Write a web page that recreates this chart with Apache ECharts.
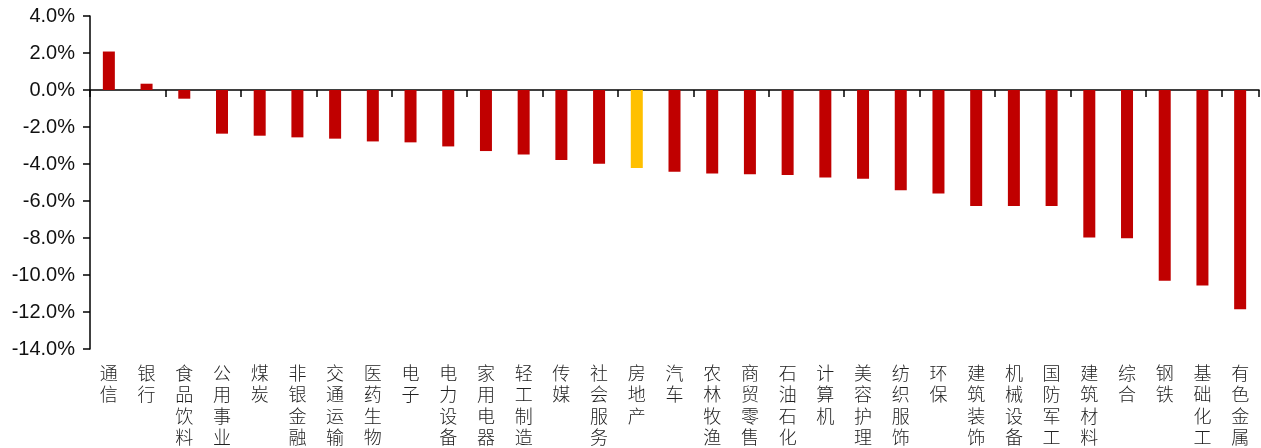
<!DOCTYPE html>
<html><head><meta charset="utf-8">
<script src="https://cdn.jsdelivr.net/npm/echarts@6/dist/echarts.min.js"></script>
<style>html,body{margin:0;padding:0;background:#fff}#c{width:1261px;height:448px}</style>
</head><body><div id="c"></div>
<script>
const categories = ['通信','银行','食品饮料','公用事业','煤炭','非银金融','交通运输','医药生物','电子','电力设备','家用电器','轻工制造','传媒','社会服务','房地产','汽车','农林牧渔','商贸零售','石油石化','计算机','美容护理','纺织服饰','环保','建筑装饰','机械设备','国防军工','建筑材料','综合','钢铁','基础化工','有色金属'];
const values = [2.08, 0.34, -0.47, -2.36, -2.47, -2.56, -2.63, -2.78, -2.83, -3.05, -3.30, -3.48, -3.79, -3.99, -4.21, -4.42, -4.52, -4.55, -4.59, -4.73, -4.80, -5.42, -5.60, -6.27, -6.27, -6.27, -7.97, -8.01, -10.31, -10.57, -11.85];
const highlight = '房地产';
const yMin = -14, yMax = 4, yStep = 2;

const chart = echarts.init(document.getElementById('c'));
chart.setOption({
  animation: false,
  grid: {left: 90, right: 2, top: 16, bottom: 99, containLabel: false},
  xAxis: [{
    type: 'category', data: categories, position: 'bottom',
    axisLine: {show: false, onZero: false}, axisTick: {show: false},
    axisLabel: {
      interval: 0, margin: 13, color: '#222', fontSize: 18, lineHeight: 21.5,
      fontFamily: 'Noto Sans CJK SC', fontWeight: 300, verticalAlign: 'top',
      formatter: v => v.split('').join('\n')
    }
  }, {
    type: 'category', data: categories, position: 'bottom',
    axisLine: {show: true, onZero: true, lineStyle: {color: '#000', width: 1.5}},
    axisTick: {show: true, length: 7, inside: false, lineStyle: {color: '#000', width: 1.5}},
    axisLabel: {show: false}
  }],
  yAxis: {
    type: 'value', min: yMin, max: yMax, interval: yStep,
    axisLine: {show: true, lineStyle: {color: '#000', width: 1.5}},
    axisTick: {show: true, length: 7, lineStyle: {color: '#000', width: 1.5}},
    splitLine: {show: false},
    axisLabel: {margin: 15, color: '#111', fontSize: 20, fontFamily: 'Liberation Sans, Arial',
      formatter: v => v.toFixed(1) + '%'}
  },
  series: [{
    type: 'bar', xAxisIndex: 0, barWidth: 12,
    data: values.map((v, i) => ({value: v, itemStyle: {color: categories[i] === highlight ? '#FFC000' : '#C00000'}}))
  }]
});
</script></body></html>
